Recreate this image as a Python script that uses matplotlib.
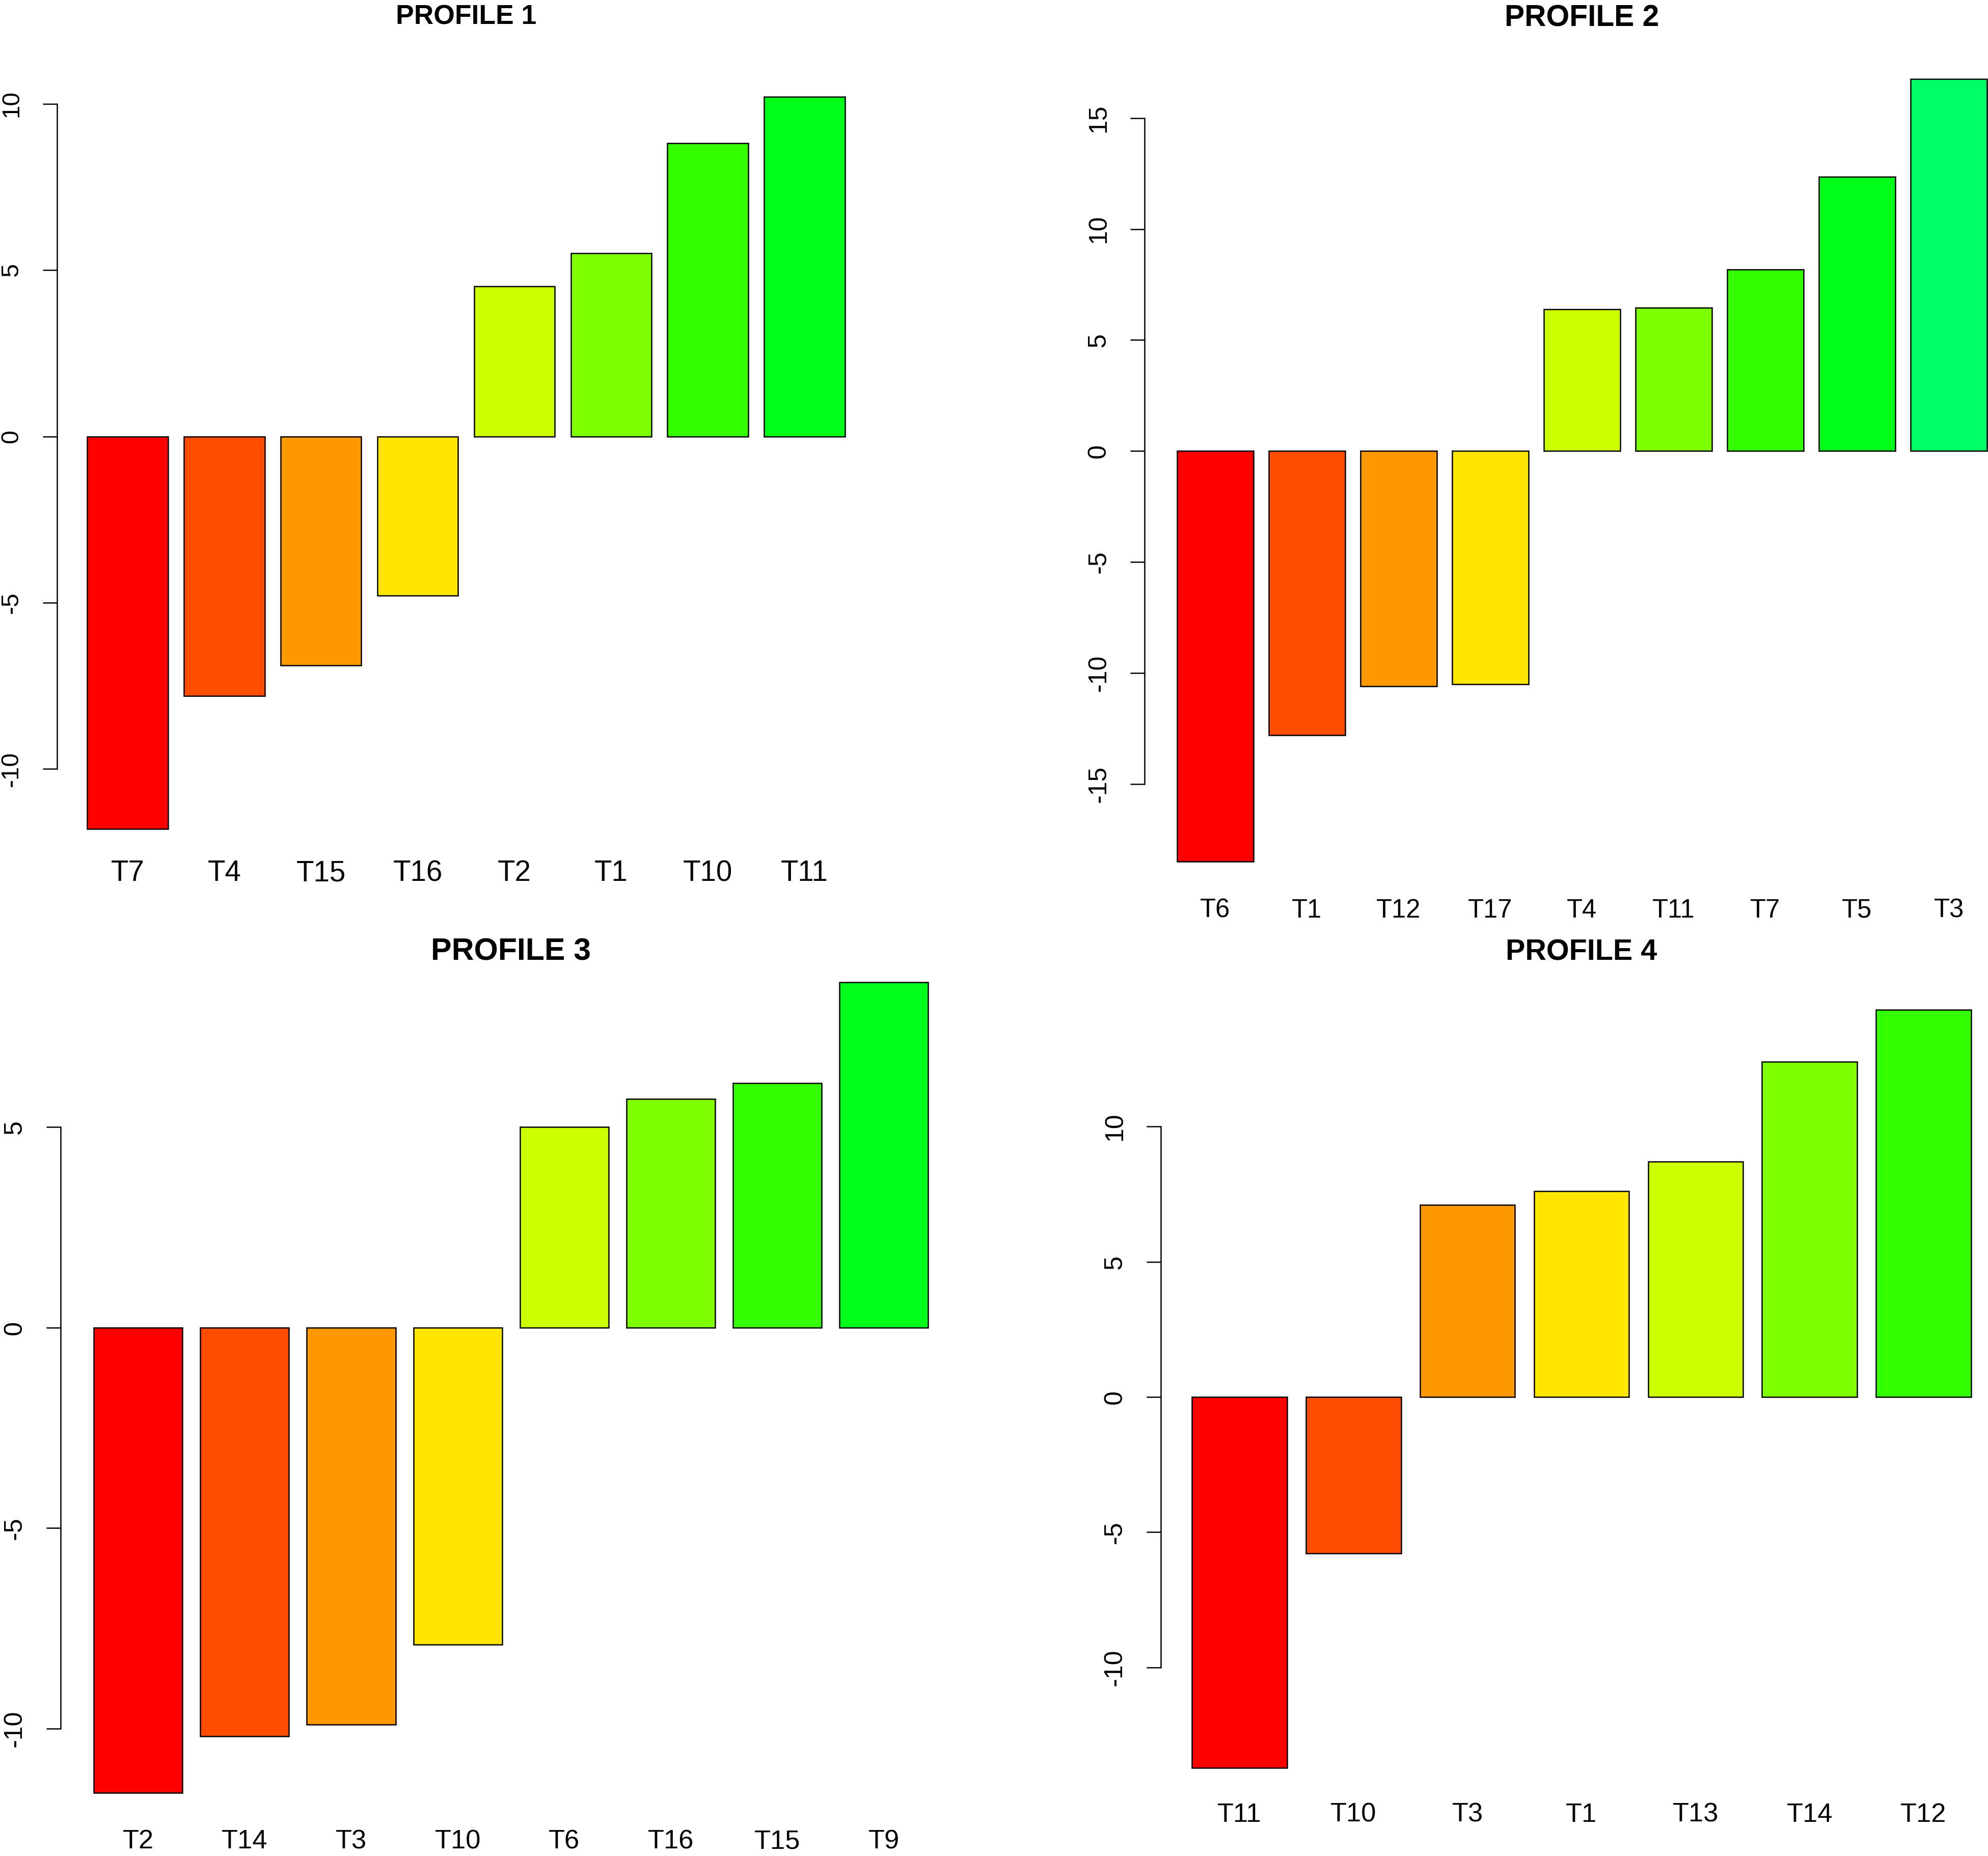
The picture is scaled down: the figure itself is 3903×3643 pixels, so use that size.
import colorsys
import matplotlib
matplotlib.use("Agg")
import matplotlib.pyplot as plt

plt.rcParams['font.family'] = ['Liberation Sans', 'DejaVu Sans']

# values, one list per profile
p1_names = ["T7", "T4", "T15", "T16", "T2", "T1", "T10", "T11"]
p1_vals = [-11.8, -7.8, -6.88, -4.79, 4.51, 5.51, 8.82, 10.2]

p2_names = ["T6", "T1", "T12", "T17", "T4", "T11", "T7", "T5", "T3"]
p2_vals = [-18.5, -12.8, -10.6, -10.5, 6.38, 6.45, 8.17, 12.36, 16.76]

p3_names = ["T2", "T14", "T3", "T10", "T6", "T16", "T15", "T9"]
p3_vals = [-11.6, -10.19, -9.9, -7.9, 5.0, 5.7, 6.1, 8.61]

p4_names = ["T11", "T10", "T3", "T1", "T13", "T14", "T12"]
p4_vals = [-13.72, -5.79, 7.1, 7.62, 8.71, 12.4, 14.32]

titles = ["PROFILE 1", "PROFILE 2", "PROFILE 3", "PROFILE 4"]
yticks = [[-10, -5, 0, 5, 10],
          [-15, -10, -5, 0, 5, 10, 15],
          [-10, -5, 0, 5],
          [-10, -5, 0, 5, 10]]

W, H = 3903, 3643
DPI = 300
fig = plt.figure(figsize=(W / DPI, H / DPI), dpi=DPI)

# plot regions in pixels: left, right, top, bottom (panels were pasted from separate images)
boxes = [(112, 1718, 133, 1684.5),
         (2247, 3964.6, 93.6, 1752.8),
         (118.5, 1888, 1864.4, 3582.4),
         (2278.9, 3931, 1922.6, 3529.6)]
title_y = [48, 52, 1885, 1885]  # baselines, pixels
title_size = [12.8, 14.1, 14.6, 13.8]
xlab_size = [13.6, 12.2, 12.6, 12.6]
ylab_size = [11.5, 12.0, 12.0, 12.0]
xlab_pad = [0.6, 2.4, 1.9, 1.9]

panels = [(p1_names, p1_vals), (p2_names, p2_vals),
          (p3_names, p3_vals), (p4_names, p4_vals)]


def rainbow(i):
    r, g, b = colorsys.hsv_to_rgb(i * 0.05, 1.0, 1.0)
    return (r, g, b)


for k, (names, vals) in enumerate(panels):
    l, r, t, b = boxes[k]
    ax = fig.add_axes([l / W, 1 - b / H, (r - l) / W, (b - t) / H])
    n = len(vals)
    lefts = [0.2 + 1.2 * i for i in range(n)]
    ax.bar(lefts, vals, width=1.0, align='edge',
           color=[rainbow(i) for i in range(n)],
           edgecolor='black', linewidth=0.6)
    # R style axis limits (4% extension)
    xr = 1.2 * n - 0.2
    ax.set_xlim(0.2 - 0.04 * xr, 1.2 * n + 0.04 * xr)
    lo, hi = min(0, min(vals)), max(0, max(vals))
    yr = hi - lo
    ax.set_ylim(lo - 0.04 * yr, hi + 0.04 * yr)

    for s in ['top', 'right', 'bottom']:
        ax.spines[s].set_visible(False)
    ax.spines['left'].set_linewidth(0.6)
    ax.spines['left'].set_bounds(yticks[k][0], yticks[k][-1])

    ax.set_yticks(yticks[k])
    ax.set_yticklabels([str(v) for v in yticks[k]], rotation=90,
                       va='center', fontsize=ylab_size[k])
    ax.tick_params(axis='y', length=6.7, width=0.6, pad=9.3)

    ax.set_xticks([x + 0.5 for x in lefts])
    ax.set_xticklabels(names, fontsize=xlab_size[k])
    ax.tick_params(axis='x', length=0, pad=xlab_pad[k])

    # title centred on the plot region, like R's main title
    fig.text((l + r) / 2 / W, 1 - title_y[k] / H, titles[k], ha='center',
             va='baseline', fontsize=title_size[k], fontweight='bold')

fig.savefig("out.png", dpi=DPI)
plt.close(fig)
